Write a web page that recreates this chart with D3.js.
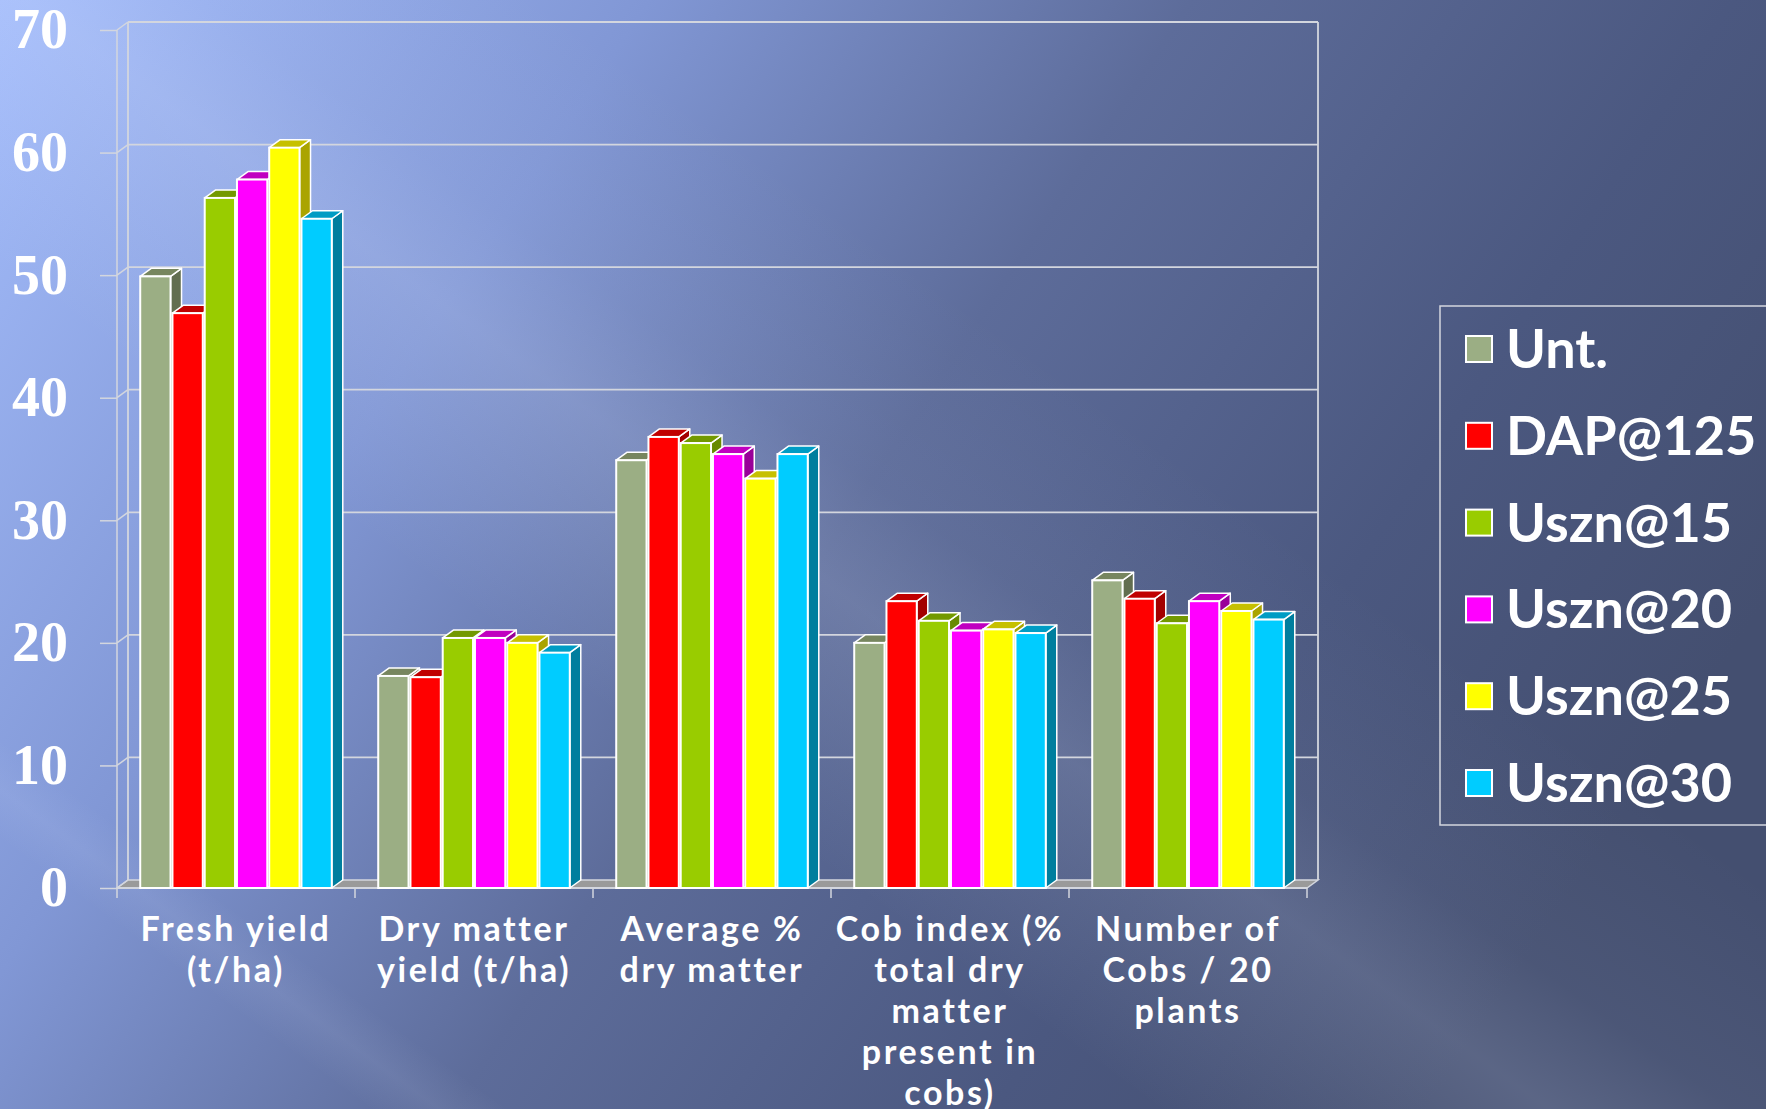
<!DOCTYPE html>
<html>
<head>
<meta charset="utf-8">
<script src="https://cdn.jsdelivr.net/npm/d3@7"></script>
<style>
  body { margin: 0; background: #4a5780; }
  svg { display: block; }
</style>
</head>
<body>
<div class="chart"></div>
<script>
// data
const categories = [
  ["Fresh yield", "(t/ha)"],
  ["Dry matter", "yield (t/ha)"],
  ["Average %", "dry matter"],
  ["Cob index (%", "total dry", "matter", "present in", "cobs)"],
  ["Number of", "Cobs / 20", "plants"]
];
const series = ["Unt.", "DAP@125", "Uszn@15", "Uszn@20", "Uszn@25", "Uszn@30"];
const untValues    = [49.9, 17.3, 34.9, 20.0, 25.1];
const dapValues    = [46.9, 17.2, 36.8, 23.4, 23.6];
const uszn15Values = [56.3, 20.4, 36.3, 21.8, 21.6];
const uszn20Values = [57.8, 20.4, 35.4, 21.0, 23.4];
const uszn25Values = [60.4, 20.0, 33.4, 21.1, 22.6];
const uszn30Values = [54.6, 19.2, 35.4, 20.8, 21.9];
const yTicks = [0, 10, 20, 30, 40, 50, 60, 70];

const allValues = [untValues, dapValues, uszn15Values, uszn20Values, uszn25Values, uszn30Values];

// front / top / side colours per series
const colors = [
  { front: "#9bae84", top: "#77865f", side: "#626e50" },
  { front: "#ff0000", top: "#c00000", side: "#a30000" },
  { front: "#99cc00", top: "#739900", side: "#678a00" },
  { front: "#ff00ff", top: "#c000c0", side: "#990099" },
  { front: "#ffff00", top: "#c6c000", side: "#aaa400" },
  { front: "#00ccff", top: "#009cc4", side: "#007e9e" }
];

const W = 1766, H = 1109;
const plotLeft = 117, plotRight = 1307, plotTop = 30, plotBottom = 888;
const dx = 11, dy = -8; // depth offset of the 3d wall

const svg = d3.select(".chart").append("svg")
  .attr("width", W).attr("height", H);

const defs = svg.append("defs");

// background gradient
const bg = defs.append("linearGradient")
  .attr("id", "bg").attr("gradientUnits", "userSpaceOnUse")
  .attr("x1", 0).attr("y1", 0).attr("x2", 1500).attr("y2", 1000);
[[0, "#a3bcfb"], [0.3, "#8197d5"], [0.55, "#5d6c9a"], [0.8, "#4b5880"], [1, "#444f70"]]
  .forEach(s => bg.append("stop").attr("offset", s[0]).attr("stop-color", s[1]));

// light diagonal streaks
const streak = defs.append("linearGradient")
  .attr("id", "streak").attr("gradientUnits", "userSpaceOnUse")
  .attr("x1", 150).attr("y1", 1050).attr("x2", 950).attr("y2", -50);
[[0, 0], [0.06, 0], [0.09, 0.08], [0.12, 0], [0.4, 0], [0.57, 0.15], [0.65, 0.05], [0.8, 0]]
  .forEach(s => streak.append("stop").attr("offset", s[0])
    .attr("stop-color", "#dde6ff").attr("stop-opacity", s[1]));

svg.append("rect").attr("width", W).attr("height", H).attr("fill", "url(#bg)");
svg.append("rect").attr("width", W).attr("height", H).attr("fill", "url(#streak)");

// scales
const y = d3.scaleLinear().domain([0, 70]).range([plotBottom, plotTop]);
const x0 = d3.scaleBand().domain(d3.range(categories.length)).range([plotLeft, plotRight]);
const x1 = d3.scaleBand().domain(d3.range(series.length))
  .range([0, x0.bandwidth()]).paddingInner(0.06).paddingOuter(0.72);

const grid = "#d3d6de";

// floor
svg.append("path")
  .attr("d", `M${plotLeft},${plotBottom}L${plotRight},${plotBottom}L${plotRight + dx},${plotBottom + dy}L${plotLeft + dx},${plotBottom + dy}Z`)
  .attr("fill", "#9a9a9a").attr("stroke", grid).attr("stroke-width", 1.5);

// back wall grid lines + left wall diagonals
const gridG = svg.append("g");
yTicks.forEach(t => {
  if (t > 0) {
    gridG.append("line")
      .attr("x1", plotLeft + dx).attr("x2", plotRight + dx)
      .attr("y1", y(t) + dy).attr("y2", y(t) + dy)
      .attr("stroke", grid).attr("stroke-width", 1.8);
  }
  gridG.append("line")
    .attr("x1", plotLeft).attr("y1", y(t))
    .attr("x2", plotLeft + dx).attr("y2", y(t) + dy)
    .attr("stroke", grid).attr("stroke-width", 1.5);
});
// wall verticals
gridG.append("line").attr("x1", plotLeft + dx).attr("x2", plotLeft + dx)
  .attr("y1", y(70) + dy).attr("y2", y(0) + dy).attr("stroke", grid).attr("stroke-width", 1.8);
gridG.append("line").attr("x1", plotRight + dx).attr("x2", plotRight + dx)
  .attr("y1", y(70) + dy).attr("y2", y(0) + dy).attr("stroke", grid).attr("stroke-width", 1.8);
gridG.append("line").attr("x1", plotLeft).attr("x2", plotLeft)
  .attr("y1", y(70)).attr("y2", y(0)).attr("stroke", grid).attr("stroke-width", 1.5);

// y axis ticks (front)
const yAxis = d3.axisLeft(y).tickValues(yTicks).tickSize(17).tickFormat(d3.format("d"));
const yAxisG = svg.append("g")
  .attr("transform", `translate(${plotLeft},0)`)
  .call(yAxis);
yAxisG.select(".domain").remove();
yAxisG.selectAll(".tick line").attr("stroke", grid).attr("stroke-width", 1.5);
yAxisG.selectAll(".tick text")
  .attr("x", -49)
  .attr("fill", "#ffffff")
  .attr("font-family", "'Liberation Serif', 'Times New Roman', serif")
  .attr("font-weight", "bold")
  .attr("font-size", 56);

// front baseline + category ticks
svg.append("line").attr("x1", plotLeft).attr("x2", plotRight)
  .attr("y1", plotBottom).attr("y2", plotBottom).attr("stroke", grid).attr("stroke-width", 2);
const boundaries = d3.range(categories.length + 1).map(i => plotLeft + i * x0.step());
svg.selectAll(".cat-tick").data(boundaries).join("line")
  .attr("class", "cat-tick")
  .attr("x1", d => d).attr("x2", d => d)
  .attr("y1", plotBottom).attr("y2", plotBottom + 10)
  .attr("stroke", grid).attr("stroke-width", 1.5);

// bars, painted left to right so later bars hide earlier side faces
const bw = x1.bandwidth();
const bars = [];
categories.forEach((c, ci) => {
  series.forEach((s, si) => {
    bars.push({ ci, si, v: allValues[si][ci] });
  });
});

const barG = svg.append("g");
bars.forEach(d => {
  const bx = x0(d.ci) + x1(d.si);
  const by = y(d.v);
  const b0 = y(0);
  const g = barG.append("g");
  const col = colors[d.si];
  g.append("path") // side
    .attr("d", `M${bx + bw},${by}L${bx + bw + dx},${by + dy}L${bx + bw + dx},${b0 + dy}L${bx + bw},${b0}Z`)
    .attr("fill", col.side).attr("stroke", "#ffffff").attr("stroke-width", 1.5)
    .attr("stroke-linejoin", "round");
  g.append("path") // top
    .attr("d", `M${bx},${by}L${bx + dx},${by + dy}L${bx + bw + dx},${by + dy}L${bx + bw},${by}Z`)
    .attr("fill", col.top).attr("stroke", "#ffffff").attr("stroke-width", 1.5)
    .attr("stroke-linejoin", "round");
  g.append("rect") // front
    .attr("x", bx).attr("y", by)
    .attr("width", bw).attr("height", b0 - by)
    .attr("fill", col.front).attr("stroke", "#ffffff").attr("stroke-width", 2);
});

// category labels
const labelG = svg.append("g")
  .attr("fill", "#ffffff")
  .attr("font-family", "Lato, 'Open Sans', sans-serif")
  .attr("font-weight", "bold")
  .attr("font-size", 34)
  .attr("letter-spacing", 2.6)
  .attr("text-anchor", "middle");
categories.forEach((lines, ci) => {
  const t = labelG.append("text")
    .attr("x", x0(ci) + x0.bandwidth() / 2)
    .attr("y", 941);
  lines.forEach((ln, li) => {
    t.append("tspan")
      .attr("x", x0(ci) + x0.bandwidth() / 2)
      .attr("dy", li === 0 ? 0 : 41)
      .text(ln);
  });
});

// legend
const legend = svg.append("g").attr("transform", "translate(1440,306)");
legend.append("rect")
  .attr("width", 400).attr("height", 519)
  .attr("fill", "none").attr("stroke", "#d3d6de").attr("stroke-width", 1.5);
const ly = d3.scalePoint().domain(series).range([43, 477]);
const items = legend.selectAll(".item").data(series).join("g")
  .attr("class", "item")
  .attr("transform", d => `translate(0,${ly(d)})`);
items.append("rect")
  .attr("x", 26).attr("y", -13)
  .attr("width", 26).attr("height", 26)
  .attr("fill", (d, i) => colors[i].front)
  .attr("stroke", "#ffffff").attr("stroke-width", 2);
items.append("text")
  .attr("x", 66).attr("y", 19)
  .attr("fill", "#ffffff")
  .attr("font-family", "Lato, 'Open Sans', sans-serif")
  .attr("font-weight", "bold")
  .attr("font-size", 54)
  .text(d => d);
</script>
</body>
</html>
